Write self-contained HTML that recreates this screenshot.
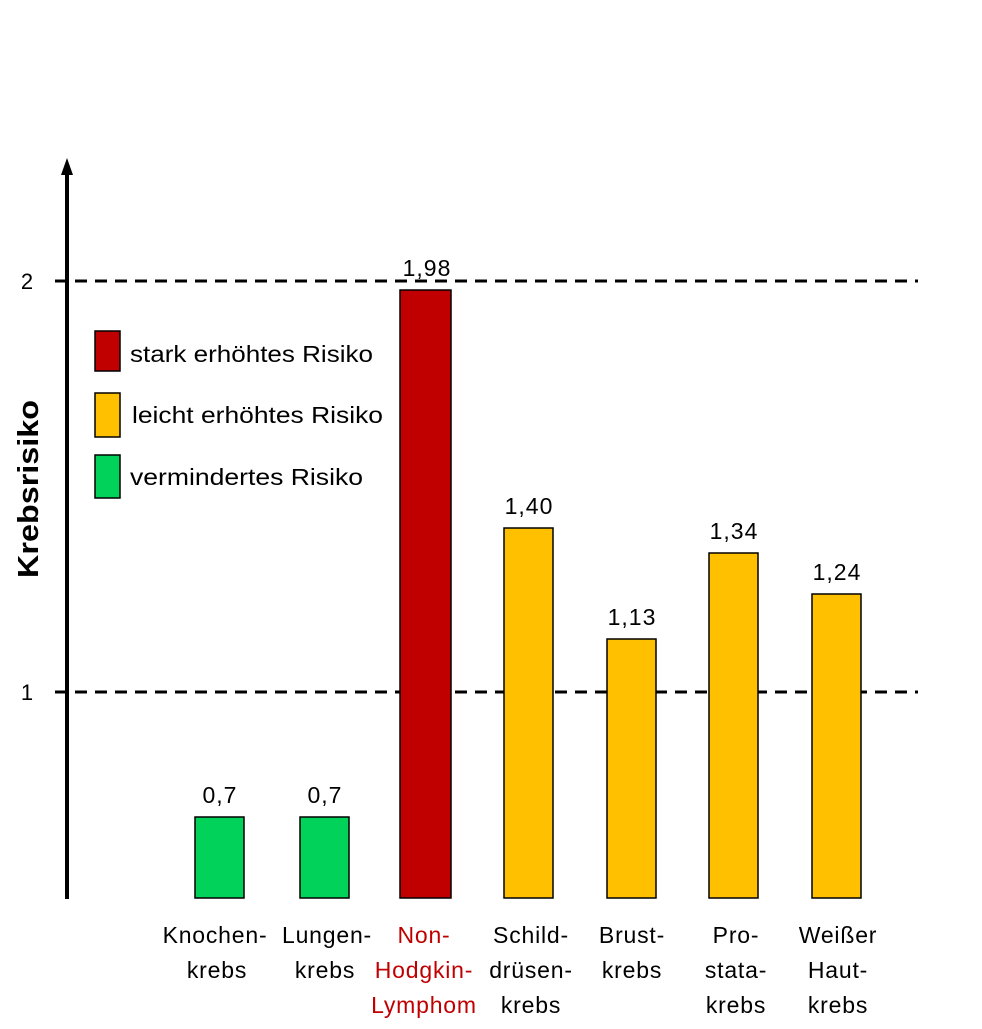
<!DOCTYPE html>
<html><head><meta charset="utf-8"><style>
body{margin:0;background:#fff;}
svg text{font-family:"Liberation Sans",sans-serif;}
</style></head><body>
<svg width="982" height="1024" xmlns="http://www.w3.org/2000/svg">
<rect width="982" height="1024" fill="#fff"/>
<line x1="55" y1="281" x2="918" y2="281" stroke="#000" stroke-width="3" stroke-dasharray="12,8"/>
<line x1="55" y1="692" x2="918" y2="692" stroke="#000" stroke-width="3" stroke-dasharray="12,8"/>
<line x1="67" y1="172" x2="67" y2="899" stroke="#000" stroke-width="4"/>
<polygon points="67,158 61,175 73,175" fill="#000"/>
<text x="27" y="289" font-size="22" text-anchor="middle">2</text>
<text x="27" y="700" font-size="22" text-anchor="middle">1</text>
<text transform="translate(38,489) rotate(-90)" font-size="29" font-weight="bold" text-anchor="middle" textLength="178" lengthAdjust="spacingAndGlyphs">Krebsrisiko</text>
<g stroke="#000" stroke-width="1.5">
<rect x="195" y="817" width="49" height="81" fill="#00d25a"/>
<rect x="300" y="817" width="49" height="81" fill="#00d25a"/>
<rect x="400" y="290" width="51" height="608" fill="#c00000"/>
<rect x="504" y="528" width="49" height="370" fill="#ffc000"/>
<rect x="607" y="639" width="49" height="259" fill="#ffc000"/>
<rect x="709" y="553" width="49" height="345" fill="#ffc000"/>
<rect x="812" y="594" width="49" height="304" fill="#ffc000"/>
</g>
<g font-size="23" text-anchor="middle" letter-spacing="1">
<text x="220" y="803">0,7</text>
<text x="325" y="803">0,7</text>
<text x="427" y="276">1,98</text>
<text x="529" y="514">1,40</text>
<text x="632" y="625">1,13</text>
<text x="734" y="539">1,34</text>
<text x="837" y="580">1,24</text>
</g>
<g stroke="#000" stroke-width="1.5">
<rect x="95" y="331" width="25" height="40" fill="#c00000"/>
<rect x="95" y="393" width="25" height="44" fill="#ffc000"/>
<rect x="95" y="455" width="25" height="43" fill="#00d25a"/>
</g>
<g font-size="23">
<text x="130" y="362" textLength="243" lengthAdjust="spacingAndGlyphs">stark erhöhtes Risiko</text>
<text x="132" y="423" textLength="251" lengthAdjust="spacingAndGlyphs">leicht erhöhtes Risiko</text>
<text x="130" y="485" textLength="233" lengthAdjust="spacingAndGlyphs">vermindertes Risiko</text>
</g>
<g font-size="23" text-anchor="middle" letter-spacing="0.8">
<text x="215" y="943">Knochen-</text><text x="217" y="978">krebs</text>
<text x="327" y="943">Lungen-</text><text x="325" y="978">krebs</text>
<g fill="#c00000"><text x="424" y="943">Non-</text><text x="424" y="978">Hodgkin-</text><text x="424" y="1013">Lymphom</text></g>
<text x="531" y="943">Schild-</text><text x="531" y="978">drüsen-</text><text x="531" y="1013">krebs</text>
<text x="632" y="943">Brust-</text><text x="632" y="978">krebs</text>
<text x="736" y="943">Pro-</text><text x="736" y="978">stata-</text><text x="736" y="1013">krebs</text>
<text x="838" y="943">Weißer</text><text x="838" y="978">Haut-</text><text x="838" y="1013">krebs</text>
</g>
</svg>
</body></html>
